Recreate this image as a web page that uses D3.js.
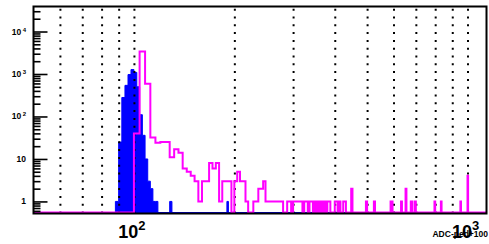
<!DOCTYPE html>
<html>
<head>
<meta charset="utf-8">
<script src="https://cdn.jsdelivr.net/npm/d3@7"></script>
<style>
  body { margin: 0; background: #fff; }
  text { font-family: "Liberation Sans", Arial, Helvetica, sans-serif; font-weight: bold; }
</style>
</head>
<body>
<script>
var width = 489;
var height = 244;

var frame = { left: 33.5, right: 486.5, top: 6.5, bottom: 213.5 };

// axis ranges
var xDomain = [50, 1140];
var yDomain = [0.52, 38800];
var gridValues = [60, 70, 80, 90, 100, 200, 300, 400, 500, 600, 700, 800, 900, 1000];
var xLabelExps = [2, 3];
var yLabelExps = [0, 1, 2, 3, 4];
var xTitle = "ADC-ped+100";

// magenta histogram, 4 ADC bins: lower edge and count (empty bins left out)
var pinkWidth = 4;
var pinkEdges = [100, 104, 108, 112, 116, 120, 124, 128, 132, 136, 140, 144, 148, 152, 156, 160, 164, 168, 172, 176,
                 180, 184, 188, 192, 200, 204, 208, 212, 216, 228, 232, 236, 240, 244, 248, 252, 256, 260, 264, 268,
                 272, 276, 288, 292, 300, 304, 308, 312, 316, 324, 328, 336, 340, 348, 356, 364, 372, 380, 384,
                 400, 404, 412, 424, 428, 448, 496, 524, 588, 592, 632, 652, 676, 680, 696, 796, 832, 952, 1000];
var pinkCounts = [40, 3400, 590, 32, 24, 25, 25, 11, 17, 14, 6, 5, 4, 3, 1, 3, 3, 8, 6, 8,
                  1, 3, 3, 3, 3, 5, 3, 3, 1, 1, 1, 2, 2, 3, 1, 1, 1, 1, 1, 1,
                  1, 1, 1, 1, 1, 1, 1, 1, 1, 1, 1, 1, 1, 1, 1, 1, 1, 1, 1,
                  1, 1, 1, 1, 1, 2, 1, 1, 1, 1, 1, 2, 1, 1, 1, 1, 1, 1, 4];

// blue filled histogram, 2 ADC bins
var blueWidth = 2;
var blueEdges = [88, 90, 92, 94, 96, 98, 100, 102, 104, 106, 108, 110, 112, 114, 116, 128, 190];
var blueCounts = [1, 25, 280, 540, 970, 1270, 1090, 500, 110, 36, 10, 3, 2, 1, 1, 1, 1];

var svg = d3.select("body").append("svg")
            .attr("width", width)
            .attr("height", height);

svg.append("rect").attr("width", width).attr("height", height).attr("fill", "#fff");

var x = d3.scaleLog().domain(xDomain).range([frame.left, frame.right]);
var y = d3.scaleLog().domain(yDomain).range([frame.bottom, frame.top]);
var zeroY = y(yDomain[0]) - 1;

svg.append("clipPath").attr("id", "plot")
   .append("rect")
   .attr("x", frame.left).attr("y", frame.top)
   .attr("width", frame.right - frame.left).attr("height", frame.bottom - frame.top);

// fill every bin of the range, empty ones sit at the bottom
function makeBins(edges, counts, w) {
  var byEdge = new Map();
  edges.forEach(function(e, i) { byEdge.set(e, counts[i]); });
  var bins = [];
  for (var lo = 48; lo < xDomain[1]; lo += w) {
    bins.push({ lo: lo, hi: lo + w, n: byEdge.get(lo) || 0 });
  }
  return bins;
}

function levelY(n) { return n > 0 ? y(n) : zeroY; }

function stepPath(bins) {
  var p = "M" + x(bins[0].lo) + "," + levelY(bins[0].n);
  bins.forEach(function(b, i) {
    if (i > 0) p += "V" + levelY(b.n);
    p += "H" + x(b.hi);
  });
  return p;
}

var plot = svg.append("g").attr("clip-path", "url(#plot)");

// blue histogram
var blueBins = makeBins(blueEdges, blueCounts, blueWidth);
plot.append("path")
    .attr("d", stepPath(blueBins) + "V" + zeroY + "H" + x(blueBins[0].lo) + "Z")
    .attr("fill", "#0000ff")
    .attr("stroke", "#0000ff")
    .attr("stroke-width", 1);

// dotted vertical grid
var grid = d3.axisBottom(x).tickValues(gridValues).tickFormat("").tickSize(-(frame.bottom - frame.top - 1));
var gridG = plot.append("g").attr("transform", "translate(0," + frame.bottom + ")").call(grid);
gridG.select(".domain").remove();
gridG.selectAll("line")
     .attr("stroke", "#000")
     .attr("stroke-width", 2)
     .attr("stroke-dasharray", "2,5.8");

// magenta histogram
plot.append("path")
    .attr("d", stepPath(makeBins(pinkEdges, pinkCounts, pinkWidth)))
    .attr("fill", "none")
    .attr("stroke", "#ff00ff")
    .attr("stroke-width", 2);

// frame
svg.append("rect")
   .attr("x", frame.left).attr("y", frame.top)
   .attr("width", frame.right - frame.left).attr("height", frame.bottom - frame.top)
   .attr("fill", "none")
   .attr("stroke", "#000")
   .attr("stroke-width", 2);

// log ticks on the y axis, drawn inside the frame
var majorTicks = yLabelExps.map(function(e) { return Math.pow(10, e); });
var minorTicks = [];
for (var e = -1; e <= 4; e++) {
  for (var k = 2; k <= 9; k++) {
    var v = k * Math.pow(10, e);
    if (v >= yDomain[0] && v <= yDomain[1]) minorTicks.push(v);
  }
}

var minorG = svg.append("g").attr("transform", "translate(" + frame.left + ",0)")
                .call(d3.axisRight(y).tickValues(minorTicks).tickFormat("").tickSize(7));
var majorG = svg.append("g").attr("transform", "translate(" + frame.left + ",0)")
                .call(d3.axisRight(y).tickValues(majorTicks).tickFormat("").tickSize(14));
[minorG, majorG].forEach(function(g) {
  g.select(".domain").remove();
  g.selectAll("line").attr("stroke", "#000").attr("stroke-width", 1.6);
});

// y labels
yLabelExps.forEach(function(e) {
  var t = svg.append("text")
             .attr("x", 26)
             .attr("y", y(Math.pow(10, e)) + 3)
             .attr("text-anchor", "end")
             .attr("font-size", 8.5);
  if (e === 0) t.text("1");
  else if (e === 1) t.text("10");
  else {
    t.append("tspan").text("10");
    t.append("tspan").attr("dx", 1.5).attr("dy", -3).attr("font-size", 6).text(e);
  }
});

// x title and labels
svg.append("text")
   .attr("x", 488)
   .attr("y", 237)
   .attr("text-anchor", "end")
   .attr("font-size", 8.5)
   .text(xTitle);

xLabelExps.forEach(function(e) {
  var t = svg.append("text")
             .attr("x", x(Math.pow(10, e)) - 2)
             .attr("y", 238)
             .attr("text-anchor", "middle")
             .attr("font-size", 18);
  t.append("tspan").text("10");
  t.append("tspan").attr("dy", -8).attr("font-size", 13).text(e);
});
</script>
</body>
</html>
